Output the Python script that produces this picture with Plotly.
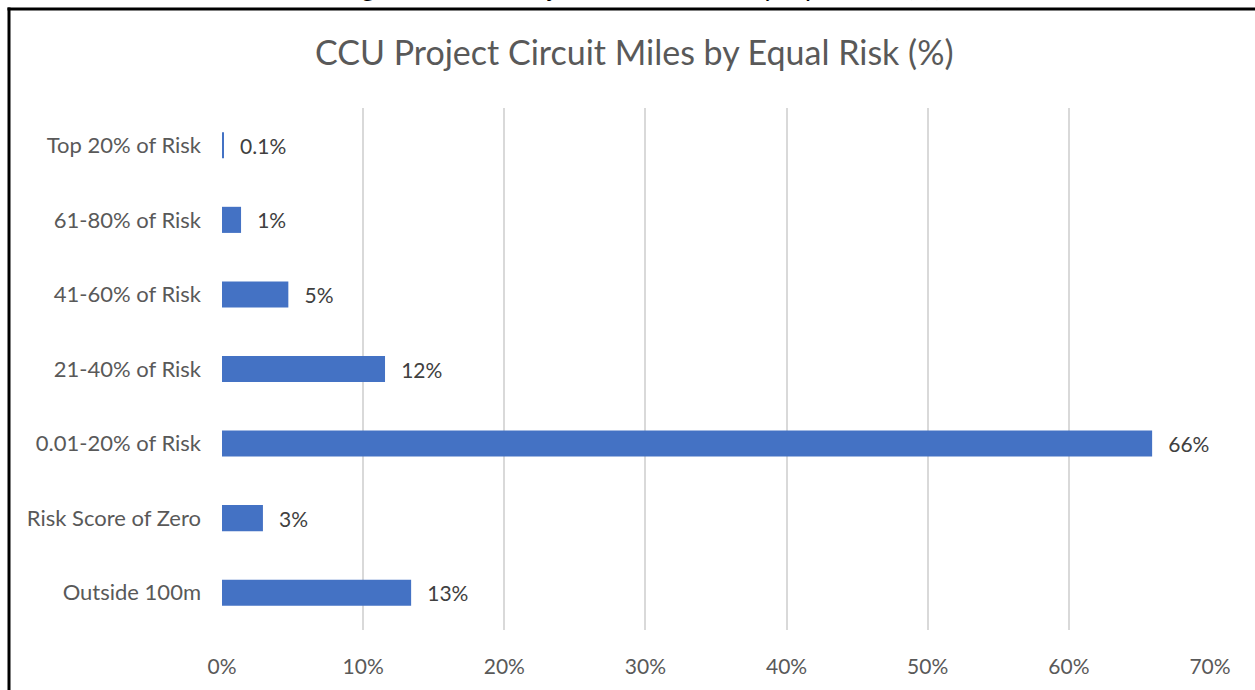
import plotly.graph_objects as go

categories = ["Outside 100m", "Risk Score of Zero", "0.01-20% of Risk", "21-40% of Risk",
              "41-60% of Risk", "61-80% of Risk", "Top 20% of Risk"]
values = [13.4, 2.9, 65.9, 11.55, 4.7, 1.35, 0.1]
labels = ["13%", "3%", "66%", "12%", "5%", "1%", "0.1%"]
x_ticks = [0, 10, 20, 30, 40, 50, 60, 70]
x_tick_text = ["0%", "10%", "20%", "30%", "40%", "50%", "60%", "70%"]

title_text = "CCU Project Circuit Miles by Equal Risk (%)"
caption_text = "Figure 4: CCU Project Circuit Miles by Equal Risk (%)"

FONT = "Lato"
W, H = 1255, 690
L, R, T, B = 222, 45, 108, 60
pw, ph = W - L - R, H - T - B

fig = go.Figure()
fig.add_trace(go.Bar(
    y=categories, x=values, orientation="h",
    marker=dict(color="#4472C4", line=dict(width=0)),
    width=0.35,
    text=["\u2002\u2009" + t for t in labels],
    textposition="outside",
    cliponaxis=False,
    textfont=dict(family=FONT, size=21, color="#404040"),
    hoverinfo="skip",
))

def px_x(p):
    return (p - L) / pw

def px_y(p):
    return (H - B - p) / ph

# frame: left and top edges (right/bottom fall outside the picture)
fig.add_shape(type="line", xref="paper", yref="paper",
              x0=px_x(9), x1=px_x(9), y0=px_y(750), y1=px_y(7.5),
              line=dict(color="black", width=3), layer="above")
fig.add_shape(type="line", xref="paper", yref="paper",
              x0=px_x(7.5), x1=px_x(1300), y0=px_y(9), y1=px_y(9),
              line=dict(color="black", width=3), layer="above")

fig.add_annotation(text=title_text, xref="paper", yref="paper",
                   x=px_x(634), y=px_y(52), xanchor="center", yanchor="middle",
                   showarrow=False, font=dict(family=FONT, size=34, color="#595959"))

fig.add_annotation(text="<i>" + caption_text + "</i>", xref="paper", yref="paper",
                   x=px_x(642), y=px_y(-15), xanchor="center", yanchor="middle",
                   showarrow=False, font=dict(family=FONT, size=28, color="black"))

fig.update_layout(
    width=W, height=H,
    margin=dict(l=L, r=R, t=T, b=B, pad=0),
    paper_bgcolor="white", plot_bgcolor="white",
    showlegend=False,
    xaxis=dict(range=[0, 70], tickvals=x_ticks, ticktext=x_tick_text,
               showgrid=True, gridcolor="#d9d9d9", gridwidth=2,
               zeroline=False, showline=False, ticks="", ticklabelstandoff=22,
               tickfont=dict(family=FONT, size=21, color="#595959")),
    yaxis=dict(showgrid=False, zeroline=False, showline=False, ticks="",
               ticklabelstandoff=20,
               tickfont=dict(family=FONT, size=22, color="#595959")),
)

fig.write_html("out.html", config={"displayModeBar": False},
               post_script="document.body.style.margin='0';document.body.style.overflow='hidden';")
